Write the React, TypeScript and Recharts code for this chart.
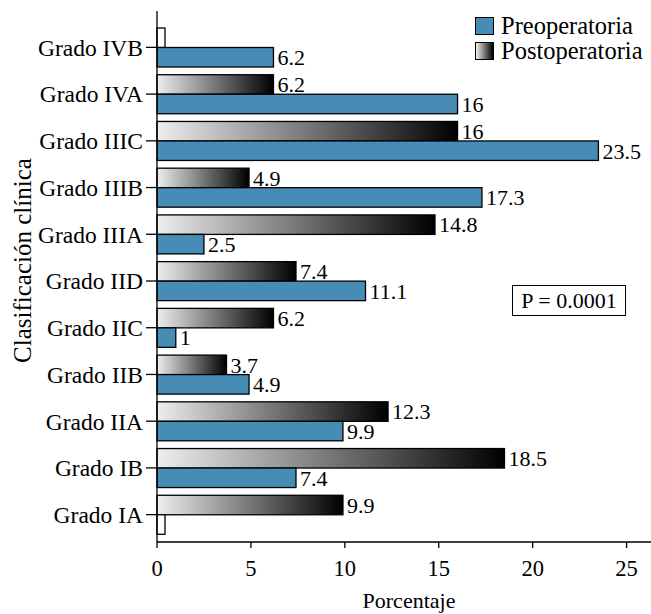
import React from 'react';
import { Bar, BarChart, LabelList, Legend, XAxis, YAxis } from 'recharts';

const categories = [
  'Grado IVB',
  'Grado IVA',
  'Grado IIIC',
  'Grado IIIB',
  'Grado IIIA',
  'Grado IID',
  'Grado IIC',
  'Grado IIB',
  'Grado IIA',
  'Grado IB',
  'Grado IA',
];
const preoperatoria = [6.2, 16, 23.5, 17.3, 2.5, 11.1, 1, 4.9, 9.9, 7.4, 0];
const postoperatoria = [0, 6.2, 16, 4.9, 14.8, 7.4, 6.2, 3.7, 12.3, 18.5, 9.9];
const xTicks = [0, 5, 10, 15, 20, 25];

const data = categories.map((name, i) => ({
  name,
  pre: preoperatoria[i],
  post: postoperatoria[i],
}));

const FONT = "'Liberation Serif', serif";
const BLUE = '#468cb5';

// zero values still get a small empty box, like the original
const barShape = (key: 'pre' | 'post', fill: string) => (props: any) => {
  const { x, y, width, height, payload } = props;
  const empty = !payload[key];
  return (
    <rect
      x={x}
      y={y}
      width={empty ? 8 : width}
      height={height}
      fill={empty ? '#fff' : fill}
      stroke="#000"
      strokeWidth={1.3}
    />
  );
};

const hideZero = (v: any) => (v ? v : '');

function LegendBox() {
  const row = (label: string, bg: string) => (
    <div style={{ display: 'flex', alignItems: 'center', height: 25 }}>
      <div
        style={{
          width: 19,
          height: 18,
          boxSizing: 'border-box',
          border: '1.3px solid #000',
          background: bg,
          marginRight: 7,
        }}
      />
      <span style={{ fontFamily: FONT, fontSize: 24.5, lineHeight: '25px' }}>{label}</span>
    </div>
  );
  return (
    <div>
      {row('Preoperatoria', BLUE)}
      {row('Postoperatoria', 'linear-gradient(to right, #f0f0f0, #000)')}
    </div>
  );
}

function YLabel(props: any) {
  const { viewBox } = props;
  const cx = 31;
  const cy = viewBox.y + viewBox.height / 2 - 16;
  return (
    <text
      x={cx}
      y={cy}
      transform={`rotate(-90, ${cx}, ${cy})`}
      textAnchor="middle"
      style={{ fontFamily: FONT, fontSize: 25 }}
      fill="#000"
    >
      Clasificación clínica
    </text>
  );
}

function XLabel(props: any) {
  const { viewBox } = props;
  return (
    <text
      x={viewBox.x + viewBox.width / 2 + 5}
      y={608}
      textAnchor="middle"
      style={{ fontFamily: FONT, fontSize: 22 }}
      fill="#000"
    >
      Porcentaje
    </text>
  );
}

export default function App() {
  return (
    <div
      style={{
        position: 'absolute',
        left: 0,
        top: 0,
        width: 651,
        height: 614,
        fontFamily: FONT,
      }}
    >
      <BarChart
        width={651}
        height={614}
        data={data}
        layout="vertical"
        margin={{ top: 11, right: 0, bottom: 0, left: 0 }}
        barGap={0}
        barSize={19.5}
        style={{ fontFamily: FONT }}
      >
        <defs>
          <linearGradient id="postGrad" x1="0" y1="0" x2="1" y2="0">
            <stop offset="0%" stopColor="#eeeeee" />
            <stop offset="100%" stopColor="#000" />
          </linearGradient>
        </defs>
        <XAxis
          type="number"
          domain={[0, 26.3]}
          ticks={xTicks}
          height={72}
          stroke="#000"
          axisLine={{ stroke: '#000', strokeWidth: 1.3 }}
          tickLine={{ stroke: '#000', strokeWidth: 1.3 }}
          tickSize={6}
          tickMargin={12}
          tick={{ fill: '#000', fontSize: 22.5 }}
          label={<XLabel />}
        />
        <XAxis
          xAxisId="top"
          orientation="top"
          type="number"
          domain={[0, 26.3]}
          height={0}
          tick={false}
          tickLine={false}
          axisLine={{ stroke: '#000', strokeWidth: 1.3 }}
        />
        <YAxis
          type="category"
          dataKey="name"
          width={157}
          padding={{ top: 13, bottom: 4 }}
          axisLine={{ stroke: '#000', strokeWidth: 1.3 }}
          tickLine={{ stroke: '#000', strokeWidth: 1.3 }}
          tickSize={11}
          tickMargin={3}
          tick={{ fill: '#000', fontSize: 23.5 }}
          interval={0}
          label={<YLabel />}
        />
        <Legend
          layout="vertical"
          align="center"
          verticalAlign="middle"
          wrapperStyle={{ left: 475, top: 13, width: 180 }}
          content={<LegendBox />}
        />
        <Bar
          dataKey="post"
          name="Postoperatoria"
          fill="url(#postGrad)"
          shape={barShape('post', 'url(#postGrad)')}
          isAnimationActive={false}
        >
          <LabelList
            dataKey="post"
            position="right"
            offset={4}
            formatter={hideZero}
            fill="#000"
            fontSize={22}
          />
        </Bar>
        <Bar
          dataKey="pre"
          name="Preoperatoria"
          fill={BLUE}
          shape={barShape('pre', BLUE)}
          isAnimationActive={false}
        >
          <LabelList
            dataKey="pre"
            position="right"
            offset={4}
            formatter={hideZero}
            fill="#000"
            fontSize={22}
          />
        </Bar>
      </BarChart>
      <div
        style={{
          position: 'absolute',
          left: 512,
          top: 285,
          width: 114,
          height: 31,
          boxSizing: 'border-box',
          border: '1.3px solid #000',
          fontFamily: FONT,
          fontSize: 22,
          lineHeight: '29px',
          textAlign: 'center',
        }}
      >
        P = 0.0001
      </div>
    </div>
  );
}
